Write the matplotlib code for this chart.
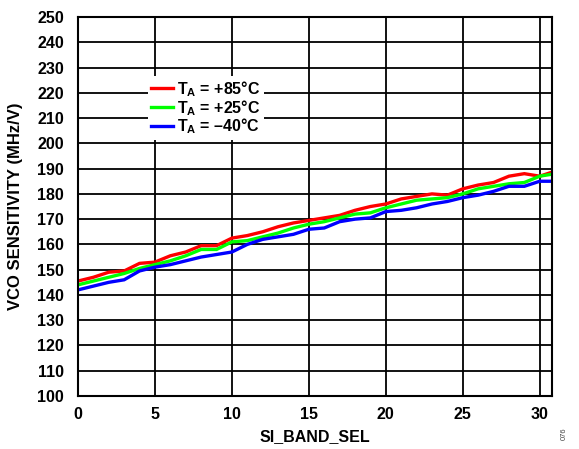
import matplotlib
matplotlib.use("Agg")
import matplotlib.pyplot as plt

plt.rcParams['font.family'] = ['Liberation Sans', 'DejaVu Sans']
plt.rcParams['font.weight'] = 'bold'
plt.rcParams['mathtext.fontset'] = 'custom'
plt.rcParams['mathtext.rm'] = 'Liberation Sans:bold'
plt.rcParams['mathtext.bf'] = 'Liberation Sans:bold'
plt.rcParams['mathtext.it'] = 'Liberation Sans:bold'

band_sel = list(range(0, 32))
t85 = [145.5, 147, 149, 149.5, 152.5, 153, 155.5, 157, 159.5, 159.5, 162.5, 163.5, 165, 167, 168.5, 169.5,
       170.5, 171.5, 173.5, 175, 176, 178, 179, 180, 179.5, 182, 183.5, 184.5, 187, 188, 187, 189]
t25 = [144, 145.5, 147, 148.5, 150.5, 152, 153.5, 155.5, 158, 158, 161, 161.5, 163, 164.5, 166.5, 168,
       169, 170.5, 172, 172.5, 174.5, 176, 177.5, 178, 178.5, 180, 182, 183, 184, 184.5, 187, 188]
tm40 = [142, 143.5, 145, 146, 149.5, 151, 152, 153.5, 155, 156, 157, 160, 162, 163, 164, 166,
        166.5, 169, 170, 170.5, 173, 173.5, 174.5, 176, 177, 178.5, 179.5, 181, 183, 183, 185, 185]
labels = [r'$\mathrm{T_A}$ = +85°C', r'$\mathrm{T_A}$ = +25°C', r'$\mathrm{T_A}$ = –40°C']
colors = ['#FF0000', '#00FF00', '#0000FF']

fig = plt.figure(figsize=(5.79, 4.49), dpi=100)
ax = fig.add_axes([0.1347, 0.118, 0.8187, 0.8441])

for y, lab, c in zip([t85, t25, tm40], labels, colors):
    ax.plot(band_sel, y, color=c, lw=2.4, label=lab, solid_joinstyle='miter')

ax.set_xlim(0, 30.8)
ax.set_ylim(100, 250)
ax.set_xticks(range(0, 31, 5))
ax.set_yticks(range(100, 251, 10))
ax.grid(True, color='black', lw=1.3)
ax.set_axisbelow(True)
ax.tick_params(axis='x', length=0, labelsize=11.5, pad=8)
ax.tick_params(axis='y', length=0, labelsize=11.5, pad=10)
for s in ax.spines.values():
    s.set_linewidth(1.5)
    s.set_color('black')
ax.set_xlabel('SI_BAND_SEL', fontsize=11.5, fontweight='bold', labelpad=5)
ax.set_ylabel('VCO SENSITIVITY (MHz/V)', fontsize=12, fontweight='bold', labelpad=10)

leg = ax.legend(loc='upper left', bbox_to_anchor=(0.13, 0.866), frameon=True, fancybox=False,
                edgecolor='none', facecolor='white', framealpha=1, fontsize=11.5,
                handlelength=1.4, handletextpad=0.25, labelspacing=-0.05, borderpad=0.2)

fig.text(0.975, 0.02, '076', rotation=90, fontsize=5.5, color='#444444',
         fontweight='normal', ha='center', va='bottom')

fig.savefig('out.png', dpi=100)
